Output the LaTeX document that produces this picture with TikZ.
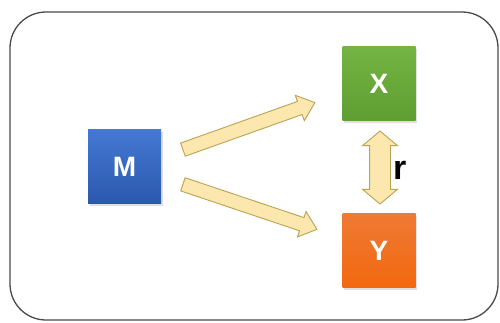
\documentclass[tikz,border=0pt]{standalone}
\usepackage{fontspec}
\setmainfont{Liberation Sans}
\usetikzlibrary{shapes.arrows,shadows,calc}
\definecolor{frameC}{HTML}{4A4A4A}
\definecolor{mTop}{HTML}{4479D2}
\definecolor{mBot}{HTML}{2C58AE}
\definecolor{xTop}{HTML}{74B443}
\definecolor{xBot}{HTML}{5E9E32}
\definecolor{yTop}{HTML}{EE7A34}
\definecolor{yBot}{HTML}{F2680F}
\definecolor{arFill}{HTML}{FCE8AE}
\definecolor{arDraw}{HTML}{B9A352}
\tikzset{
  varbox/.style={minimum width=73pt, minimum height=74pt, inner sep=0pt,
    text=white, font=\fontsize{28}{30}\selectfont\bfseries,
    drop shadow={opacity=0.25, shadow xshift=1.5pt, shadow yshift=-2pt}},
  flowarrow/.style={single arrow, fill=arFill, draw=arDraw, line width=0.9pt,
    inner xsep=0pt, inner ysep=6.5pt, single arrow head extend=6.5pt,
    single arrow tip angle=80, minimum width=0pt},
  corrarrow/.style={double arrow, fill=arFill, draw=arDraw, line width=0.9pt,
    inner xsep=0pt, inner ysep=10pt, double arrow head extend=7pt,
    double arrow tip angle=100, minimum width=0pt}
}
\begin{document}
\begin{tikzpicture}[x=1pt,y=-1pt]
\useasboundingbox (0,0) rectangle (500,322);
\fill[white] (0,0) rectangle (500,322);
\draw[frameC, line width=1.3pt, rounded corners=36pt] (10,12) rectangle (498,320);
\node[varbox, top color=mTop, bottom color=mBot] (M) at (124.5,166.5) {M};
\node[varbox, top color=xTop, bottom color=xBot] (X) at (379,83.5) {X};
\node[varbox, top color=yTop, bottom color=yBot] (Y) at (379,250.5) {Y};
\coordinate (a1s) at (179,151);
\coordinate (a1e) at (311,104);
\coordinate (a2s) at (179,183);
\coordinate (a2e) at (313,228);
\coordinate (cs) at (380,131);
\coordinate (ce) at (380,204);
\path let \p1=($(a1e)-(a1s)$), \n1={atan2(\y1,\x1)}, \n2={veclen(\x1,\y1)} in
  node[flowarrow, rotate=\n1, minimum height=\n2] (A1) at ($(a1s)!0.5!(a1e)$) {};
\path let \p1=($(a2e)-(a2s)$), \n1={atan2(\y1,\x1)}, \n2={veclen(\x1,\y1)} in
  node[flowarrow, rotate=\n1, minimum height=\n2] (A2) at ($(a2s)!0.5!(a2e)$) {};
\path let \p1=($(ce)-(cs)$), \n1={atan2(\y1,\x1)}, \n2={veclen(\x1,\y1)} in
  node[corrarrow, rotate=\n1, minimum height=\n2] (C) at ($(cs)!0.5!(ce)$) {};
\node[font=\fontsize{34}{36}\selectfont\bfseries, inner sep=0pt, anchor=west] (r) at (393,170) {r};
\end{tikzpicture}
\end{document}
